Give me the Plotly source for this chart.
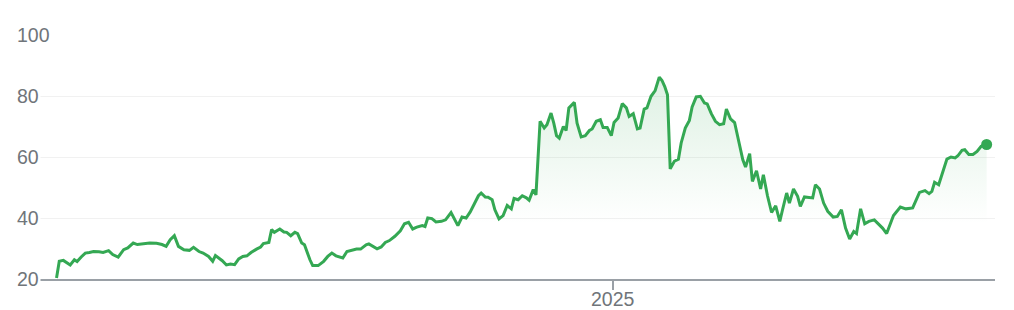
import pandas as pd
import plotly.graph_objects as go

# Day offsets relative to 1 Jan 2025 and closing values
day_offsets = [-406,-404,-401,-399,-396,-393,-391,-388,-385,-382,-379,-375,-372,-368,-365,-361,-357,-354,-350,-347,
               -343,-338,-333,-329,-326,-323,-320,-317,-313,-309,-306,-302,-299,-295,-292,-290,-285,-282,-279,-276,
               -273,-270,-267,-264,-260,-257,-255,-251,-249,-247,-243,-240,-238,-235,-232,-230,-227,-225,-221,-219,
               -215,-211,-208,-205,-202,-197,-194,-191,-187,-184,-180,-178,-175,-172,-169,-166,-163,-159,-155,-152,
               -149,-146,-143,-139,-137,-135,-132,-129,-125,-122,-118,-116,-113,-110,-107,-104,-101,-98,-96,-93,
               -91,-88,-86,-83,-80,-77,-74,-72,-69,-66,-63,-61,-58,-56,-53,-50,-48,-45,-43,-41,
               -39,-36,-34,-32,-28,-26,-23,-20,-17,-15,-12,-9,-7,-4,-1,1,4,7,10,12,
               15,18,20,23,25,28,31,34,36,38,40,42,45,48,50,53,56,58,61,64,
               67,69,72,75,78,81,83,86,89,91,93,95,97,100,102,105,108,110,113,116,
               119,122,124,127,129,132,135,137,140,144,146,148,151,154,157,161,164,167,170,173,
               176,178,181,184,187,191,194,197,200,202,205,210,214,219,224,228,231,233,235,238,
               241,244,247,250,252,255,257,260,263,266,269,273]

values = [20.3,25.8,26.1,25.4,24.6,26.3,25.7,27.2,28.5,28.7,29.0,28.9,28.7,29.3,28.0,27.2,29.6,30.2,31.8,31.3,
          31.5,31.8,31.7,31.3,30.7,32.9,34.2,30.7,29.6,29.4,30.4,29.0,28.5,27.4,25.8,27.7,26.0,24.6,24.9,24.7,
          26.6,27.4,27.6,28.7,29.8,30.5,31.6,32.0,36.2,35.3,36.4,35.4,35.3,34.2,35.3,34.9,31.8,31.2,26.3,24.4,
          24.4,25.8,27.4,28.5,27.6,26.9,29.0,29.4,29.8,29.8,31.2,31.5,30.7,29.9,30.5,32.0,32.6,34.0,35.8,38.1,
          38.6,36.4,37.0,37.5,37.2,40.0,39.8,38.7,38.9,39.4,41.8,40.0,37.5,40.3,40.0,42.0,44.9,47.3,48.2,46.9,
          46.8,46.0,42.7,39.7,40.8,44.1,43.0,46.4,46.0,47.3,46.6,45.8,49.3,47.6,71.7,69.5,70.6,74.4,71.1,67.0,
          66.2,70.0,68.7,76.1,77.9,71.1,66.6,67.0,68.7,69.2,71.7,72.2,69.7,69.7,67.0,71.3,72.8,77.5,76.1,73.3,
          74.2,69.2,69.5,75.7,76.1,79.9,81.8,86.2,85.1,83.1,80.4,56.1,58.6,59.3,64.6,69.5,72.0,76.4,79.7,79.9,
          77.7,77.4,74.2,71.7,70.6,70.9,75.7,72.5,71.3,67.3,63.3,59.1,56.7,61.1,52.0,55.5,49.5,54.2,47.3,41.8,
          44.0,38.9,42.7,48.2,44.9,49.5,47.1,43.8,46.9,46.8,46.6,50.9,49.5,44.9,42.2,40.3,40.5,42.7,36.7,33.1,
          35.6,34.9,43.0,38.1,38.9,39.4,38.1,36.7,34.9,37.2,40.8,43.6,43.0,43.3,48.4,49.0,48.0,48.7,51.7,50.9,
          55.3,59.3,60.0,59.7,60.4,62.2,62.4,60.8,60.8,61.8,63.5,64.1]

y_ticks = [20, 40, 60, 80, 100]
x_tick_labels = ["2025"]
x_tick_dates = ["2025-01-01"]

base = pd.Timestamp("2025-01-01")
dates = [base + pd.Timedelta(days=d) for d in day_offsets]

GREEN = "#34a853"
LABEL = "#70757a"
FONT = "Arial, Liberation Sans, sans-serif"
FSIZE = 19.5

fig = go.Figure()
fig.add_trace(go.Scatter(
    x=dates, y=values, mode="lines",
    line=dict(color=GREEN, width=3),
    fill="tozeroy",
    fillgradient=dict(type="vertical",
                      colorscale=[[0, "rgba(52,168,83,0)"], [1, "rgba(52,168,83,0.17)"]],
                      start=38, stop=88),
    hoverinfo="skip", showlegend=False,
))
fig.add_trace(go.Scatter(
    x=[dates[-1]], y=[values[-1]], mode="markers",
    marker=dict(color=GREEN, size=11),
    cliponaxis=False, showlegend=False, hoverinfo="skip",
))

for v in y_ticks:
    fig.add_annotation(x=0, xref="paper", y=v, yref="y", text=str(v),
                       xanchor="left", yanchor="middle", xshift=-24,
                       showarrow=False, bgcolor="white",
                       font=dict(family=FONT, size=FSIZE, color=LABEL))

for d, lab in zip(x_tick_dates, x_tick_labels):
    fig.add_annotation(x=d, xref="x", y=0, yref="paper", text=lab,
                       xanchor="center", yanchor="middle", yshift=-20,
                       showarrow=False,
                       font=dict(family=FONT, size=FSIZE, color=LABEL))

fig.update_layout(
    width=1014, height=310,
    margin=dict(l=39, r=19, t=35, b=31),
    paper_bgcolor="white", plot_bgcolor="white",
    xaxis=dict(
        type="date",
        range=[base + pd.Timedelta(days=-418.8), base + pd.Timedelta(days=279.1)],
        tickvals=x_tick_dates, showticklabels=False,
        ticks="outside", ticklen=9, tickwidth=1.5, tickcolor="#9aa0a6",
        showline=True, linecolor="#9aa0a6", linewidth=2,
        showgrid=False, zeroline=False, automargin=False,
        fixedrange=True,
    ),
    yaxis=dict(
        range=[20, 100], tickvals=y_ticks, showticklabels=False,
        showgrid=True, gridcolor="#f1f1f1", gridwidth=1,
        zeroline=False, showline=False, automargin=False, fixedrange=True,
    ),
)

fig.write_html("out.html")
